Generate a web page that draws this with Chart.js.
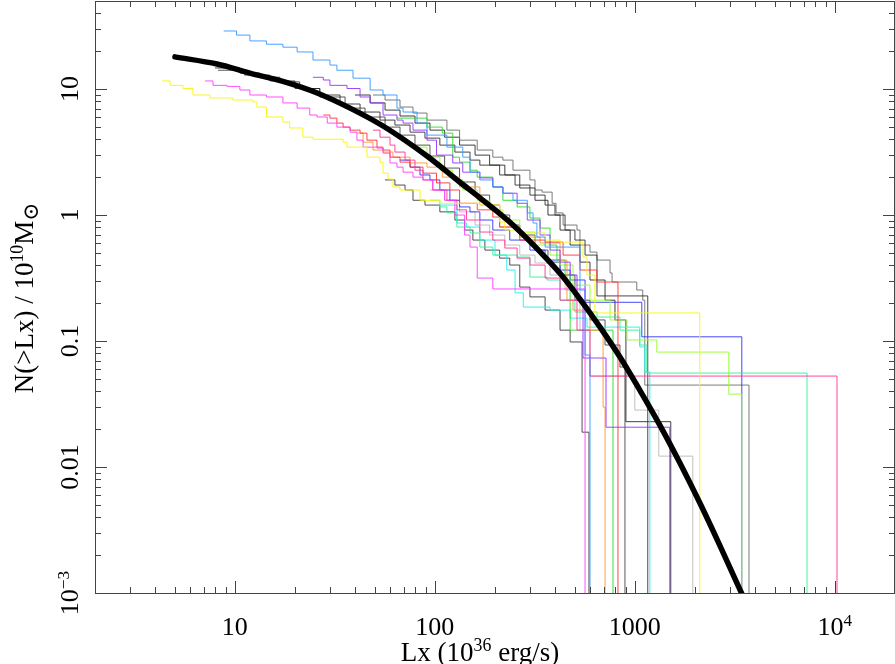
<!DOCTYPE html>
<html><head><meta charset="utf-8">
<script src="https://cdn.jsdelivr.net/npm/chart.js@4.4.0/dist/chart.umd.min.js"></script>
<style>html,body{margin:0;padding:0;background:#fff;}#wrap{width:895px;height:664px;}</style>
</head><body><div id="wrap"><canvas id="c" width="895" height="664"></canvas></div>
<script>
// ---- axis ranges & labels ----
const xMin = 2, xMax = 20000;
const yMin = 0.001, yMax = 50;
const xTickValues = [10, 100, 1000, 10000];
const xTickLabels = ['10', '100', '1000', '10^{4}'];
const yTickValues = [0.001, 0.01, 0.1, 1, 10];
const yTickLabels = ['10^{\u22123}', '0.01', '0.1', '1', '10'];
const xTitle = 'Lx (10^{36} erg/s)';
const yTitle = 'N(>Lx) / 10^{10}M_{\u2299}';

// ---- model curve ----
const modelL = [5.02,8.15,11.9,17.4,25.8,37.7,55.1,91.4,133,168,246,364,438,532,670,843,1059,1334,1679,2113,2661,3396,3557];
const modelN = [18.0,15.8,13.4,11.5,9.31,7.06,5.09,2.94,1.83,1.37,0.833,0.447,0.322,0.215,0.129,0.0746,0.0408,0.0215,0.0108,0.0052,0.00239,0.00102,0.000865];

// ---- cumulative luminosity functions (step curves); last point = drop below axis ----
const blueL = [8.8,10.2,11.9,14.4,17.4,20.5,24.6,29.9,32.4,39.0,47.5,55.1,64.7,69.4,81.5,91.4,115,138,150,168,195,219,246,290,310,324,356,532,564,597];
const blueN = [28.9,26.8,24.1,22.7,21.5,19.7,17.0,15.5,14.1,12.2,9.83,8.97,7.06,6.57,5.37,4.31,3.46,2.88,2.19,1.90,1.67,1.49,1.31,1.04,0.864,0.669,0.557,0.254,0.0774,1e-4];
const yellowL = [4.33,4.75,5.51,6.18,7.52,9.77,12.3,12.9,14.4,17.4,18.8,21.9,24.6,34.8,36.4,45.8,53.2,55.1,58.4,61.8,67.0,84.3,106,168,211,224,266,356,423,551,577,632,2113];
const yellowN = [11.6,10.7,10.1,8.97,8.50,8.19,7.90,7.20,6.00,5.47,4.91,4.15,4.00,3.79,3.46,2.88,2.63,2.15,1.93,1.67,1.58,1.31,1.24,1.20,0.880,0.760,0.720,0.633,0.610,0.464,0.334,0.167,1e-4];
const magentaL = [7.10,7.78,9.14,10.6,11.9,14.4,17.4,20.5,23.7,25.8,29.0,32.4,37.7,40.8,43.8,51.4,55.1,59.7,64.7,69.4,77.8,87.3,97.7,112,126,141,150,163,195,564];
const magentaN = [11.6,10.7,10.5,9.83,8.97,8.65,7.76,7.06,6.22,6.00,5.37,4.99,4.55,3.93,3.46,3.40,3.10,2.59,2.40,2.19,2.00,1.90,1.58,1.31,1.00,0.694,0.557,0.316,0.259,1e-4];
const purpleL = [24.6,27.7,29.9,36.4,42.3,47.5,55.1,64.7,69.4,77.8,91.4,102,123,138,168,195,219,258,290,336,377,423,475,514,551,718,1496];
const purpleN = [12.4,11.8,10.7,10.1,8.65,7.76,6.22,5.67,5.37,4.72,3.93,2.99,2.59,2.19,1.97,1.67,1.49,1.24,0.913,0.694,0.527,0.423,0.334,0.211,0.0733,0.0207,1e-4];
const hotpinkL = [49.1,53.2,59.7,63.2,71.0,79.6,87.3,97.7,115,129,144,168,195,224,258,299,356,423,514,597,10258];
const hotpinkN = [4.72,4.15,3.59,3.16,2.73,2.27,1.90,1.58,1.31,1.10,0.913,0.733,0.633,0.547,0.455,0.401,0.316,0.211,0.122,0.0527,1e-4];
const redL = [27.7,29.9,32.4,34.8,37.7,42.3,45.8,51.4,55.1,59.7,67.0,75.2,87.3,102,119,133,163,195,211,266,356,438,532,647,824];
const redN = [6.22,5.88,5.37,4.99,4.72,4.47,3.93,3.46,3.28,2.88,2.63,2.40,2.15,1.80,1.58,1.24,1.10,0.964,0.803,0.633,0.610,0.481,0.366,0.294,1e-4];
const orangeL = [40.8,43.8,49.1,55.1,61.8,75.2,91.4,109,133,168,211,266,336,423,458,491,597,694,710];
const orangeN = [4.47,3.79,3.28,3.16,2.88,2.59,2.40,2.00,1.67,1.20,0.803,0.669,0.600,0.439,0.211,0.176,0.122,0.0299,1e-4];
const greenL = [64.7,91.4,109,123,133,150,163,195,219,258,299,336,377,408,448,475,778];
const greenN = [5.88,4.99,4.47,2.88,2.63,2.27,2.00,1.67,1.31,1.16,0.947,0.788,0.578,0.439,0.334,0.122,1e-4];
const chartreuseL = [77.8,91.4,106,123,138,163,188,219,266,317,377,423,491,597,752,914,1288,2951,3428];
const chartreuseN = [3.46,2.88,2.27,1.90,1.58,1.31,1.10,0.913,0.733,0.578,0.481,0.401,0.278,0.211,0.147,0.102,0.0817,0.0379,1e-4];
const springL = [94.6,106,115,129,150,168,195,258,299,364,423,502,647,843,1059,1148,7262];
const springN = [1.31,1.16,1.04,0.803,0.720,0.557,0.481,0.464,0.322,0.305,0.211,0.170,0.155,0.122,0.0930,0.0557,1e-4];
const cyanL = [106,129,144,168,200,229,252,277,377,475,577,1059,1122,1189];
const cyanN = [1.20,0.864,0.803,0.633,0.481,0.366,0.241,0.186,0.176,0.152,0.129,0.0897,0.0567,1e-4];
const navyL = [67.0,75.2,84.3,94.6,106,119,133,150,168,195,237,299,356,423,475,564,1084,3428];
const navyN = [2.73,2.40,2.08,1.90,1.58,1.31,1.16,1.06,0.913,0.760,0.633,0.527,0.439,0.366,0.305,0.203,0.108,1e-4];
const dark1L = [7.96,10.6,13.3,16.8,21.1,26.6,33.6,42.3,53.2,63.2,75.2,89.3,106,126,150,168,211,252,299,356,399,448,502,564,647,1161];
const dark1N = [14.7,13.4,12.4,11.4,10.1,8.97,7.61,6.57,5.67,5.18,4.55,4.08,3.59,3.16,2.73,2.49,2.08,1.73,1.44,1.20,1.00,0.760,0.633,0.481,0.228,1e-4];
const grey2L = [49.1,56.4,67.0,77.8,91.4,115,133,163,195,219,246,299,317,344,386,404,438,514,532,597,647,752,770,1023,1096,1122,3724];
const grey2N = [8.97,8.19,7.20,6.45,5.67,4.72,3.93,3.28,2.88,2.73,2.27,1.90,1.58,1.52,1.24,1.04,0.833,0.760,0.578,0.508,0.439,0.347,0.294,0.254,0.211,0.0447,1e-4];
const dark3L = [39.9,47.5,56.4,67.0,79.6,94.6,112,133,159,188,224,266,317,368,423,475,532,597,710,796,903,1513];
const dark3N = [8.97,7.76,6.81,6.11,5.37,4.72,4.15,3.59,2.99,2.49,2.08,1.64,1.31,1.00,0.760,0.578,0.423,0.305,0.211,0.147,0.0229,1e-4];
const dark4L = [8.24,11.2,15.0,20.0,26.6,35.6,44.8,56.4,67.0,79.6,94.6,112,133,159,188,211,237,266,317,368,423,502,597,710,843,893];
const dark4N = [14.1,12.9,11.6,10.1,8.65,7.06,6.00,4.99,4.31,3.59,2.94,2.36,1.83,1.44,1.20,1.00,0.833,0.694,0.527,0.423,0.334,0.211,0.147,0.0930,0.0622,1e-4];
const dark5L = [56.4,63.2,71.0,77.8,89.3,106,126,141,155,178,211,237,266,299,356,423,475,545,590];
const dark5N = [1.90,1.73,1.58,1.31,1.20,1.06,0.913,0.760,0.633,0.527,0.455,0.401,0.268,0.224,0.176,0.122,0.0983,0.0189,1e-4];
const lightGreyL = [94.6,112,133,159,188,224,266,317,377,448,532,597,1000,1318,1950];
const lightGreyN = [1.58,1.31,1.06,0.833,0.694,0.578,0.481,0.416,0.334,0.254,0.122,0.0527,0.0283,0.0122,1e-4];

const stepCurves = [
  [blueL, blueN, 'rgba(51,153,255,0.9)'],
  [yellowL, yellowN, 'rgba(250,245,20,0.95)'],
  [magentaL, magentaN, 'rgba(255,60,255,0.9)'],
  [purpleL, purpleN, 'rgba(150,50,255,0.9)'],
  [hotpinkL, hotpinkN, 'rgba(255,50,150,0.9)'],
  [redL, redN, 'rgba(255,50,50,0.9)'],
  [orangeL, orangeN, 'rgba(255,150,50,0.9)'],
  [greenL, greenN, 'rgba(40,220,40,0.9)'],
  [chartreuseL, chartreuseN, 'rgba(150,255,50,0.95)'],
  [springL, springN, 'rgba(50,240,150,0.9)'],
  [cyanL, cyanN, 'rgba(40,240,240,0.95)'],
  [navyL, navyN, 'rgba(50,50,255,0.9)'],
  [dark1L, dark1N, 'rgba(40,40,40,0.85)'],
  [grey2L, grey2N, 'rgba(110,110,110,0.9)'],
  [dark3L, dark3N, 'rgba(30,30,30,0.85)'],
  [dark4L, dark4N, 'rgba(60,60,60,0.85)'],
  [dark5L, dark5N, 'rgba(50,50,50,0.85)'],
  [lightGreyL, lightGreyN, 'rgba(190,190,190,0.95)']
];

const toPts = (L, N) => L.map((v, i) => ({x: v, y: N[i]}));

const datasets = [{
  data: toPts(modelL, modelN),
  borderColor: '#000', borderWidth: 5.5, borderCapStyle: 'round',
  cubicInterpolationMode: 'monotone', pointRadius: 0, fill: false
}];
stepCurves.forEach(([L, N, c]) => datasets.push({
  data: toPts(L, N), borderColor: c, borderWidth: 1, stepped: 'before',
  pointRadius: 0, fill: false
}));

const FONT = '"Liberation Serif", "Times New Roman", "DejaVu Serif", serif';
function parseRich(s) {
  const parts = []; const re = /(\^|_)\{([^}]*)\}/g; let last = 0, m;
  while ((m = re.exec(s))) {
    if (m.index > last) parts.push({t: s.slice(last, m.index), k: 0});
    parts.push({t: m[2], k: m[1] === '^' ? 1 : -1}); last = re.lastIndex;
  }
  if (last < s.length) parts.push({t: s.slice(last), k: 0});
  return parts;
}
function drawRich(ctx, s, x, y, size) {
  const parts = parseRich(s);
  const f = p => (p.k === 1 ? size * 0.66 : p.k === -1 ? size * 0.8 : size) + 'px ' + FONT;
  let w = 0;
  parts.forEach(p => { ctx.font = f(p); p.w = ctx.measureText(p.t).width; w += p.w; });
  let cx = x - w / 2;
  ctx.textAlign = 'left'; ctx.textBaseline = 'alphabetic';
  parts.forEach(p => {
    ctx.font = f(p);
    const dy = p.k === 1 ? -size * 0.36 : p.k === -1 ? size * 0.2 : 0;
    ctx.fillText(p.t, cx, y + dy); cx += p.w;
  });
}

const framePlugin = {
  id: 'frame',
  afterDraw(chart) {
    const {ctx, chartArea: a, scales: {x, y}} = chart;
    ctx.save();
    ctx.strokeStyle = '#444'; ctx.lineWidth = 1;
    ctx.strokeRect(a.left + 0.5, a.top + 0.5, a.right - a.left - 1, a.bottom - a.top);
    const line = (x1, y1, x2, y2) => { ctx.beginPath(); ctx.moveTo(x1, y1); ctx.lineTo(x2, y2); ctx.stroke(); };
    const major = 12, minor = 6;
    for (let d = Math.floor(Math.log10(xMin)); d <= Math.ceil(Math.log10(xMax)); d++) {
      for (let m = 1; m <= 9; m++) {
        const v = m * Math.pow(10, d);
        if (v < xMin * 0.999 || v > xMax * 1.001) continue;
        const p = Math.round(x.getPixelForValue(v)) + 0.5;
        const len = m === 1 ? major : minor;
        line(p, a.bottom, p, a.bottom - len);
        line(p, a.top, p, a.top + len);
      }
    }
    for (let d = Math.floor(Math.log10(yMin)); d <= Math.ceil(Math.log10(yMax)); d++) {
      for (let m = 1; m <= 9; m++) {
        const v = m * Math.pow(10, d);
        if (v < yMin * 0.999 || v > yMax * 1.001) continue;
        const p = Math.round(y.getPixelForValue(v)) + 0.5;
        const len = m === 1 ? major : minor;
        line(a.left, p, a.left + len, p);
        line(a.right, p, a.right - len, p);
      }
    }
    ctx.fillStyle = '#000';
    const SZ = 26, TSZ = 27;
    xTickValues.forEach((v, i) => drawRich(ctx, xTickLabels[i], x.getPixelForValue(v), 635, SZ));
    yTickValues.forEach((v, i) => {
      ctx.save(); ctx.translate(78, y.getPixelForValue(v)); ctx.rotate(-Math.PI / 2);
      drawRich(ctx, yTickLabels[i], 0, 0, SZ); ctx.restore();
    });
    drawRich(ctx, xTitle, 480, 661, TSZ);
    ctx.save(); ctx.translate(33, 298); ctx.rotate(-Math.PI / 2);
    drawRich(ctx, yTitle, 0, 0, TSZ); ctx.restore();
    ctx.restore();
  }
};

new Chart(document.getElementById('c'), {
  type: 'line',
  data: {datasets},
  options: {
    responsive: false, animation: false, devicePixelRatio: 1,
    layout: {padding: {left: 95, top: 1, right: 0, bottom: 71}},
    plugins: {legend: {display: false}, tooltip: {enabled: false}},
    scales: {
      x: {type: 'logarithmic', min: xMin, max: xMax, display: false},
      y: {type: 'logarithmic', min: yMin, max: yMax, display: false}
    },
    elements: {point: {radius: 0}}
  },
  plugins: [framePlugin]
});
</script></body></html>
